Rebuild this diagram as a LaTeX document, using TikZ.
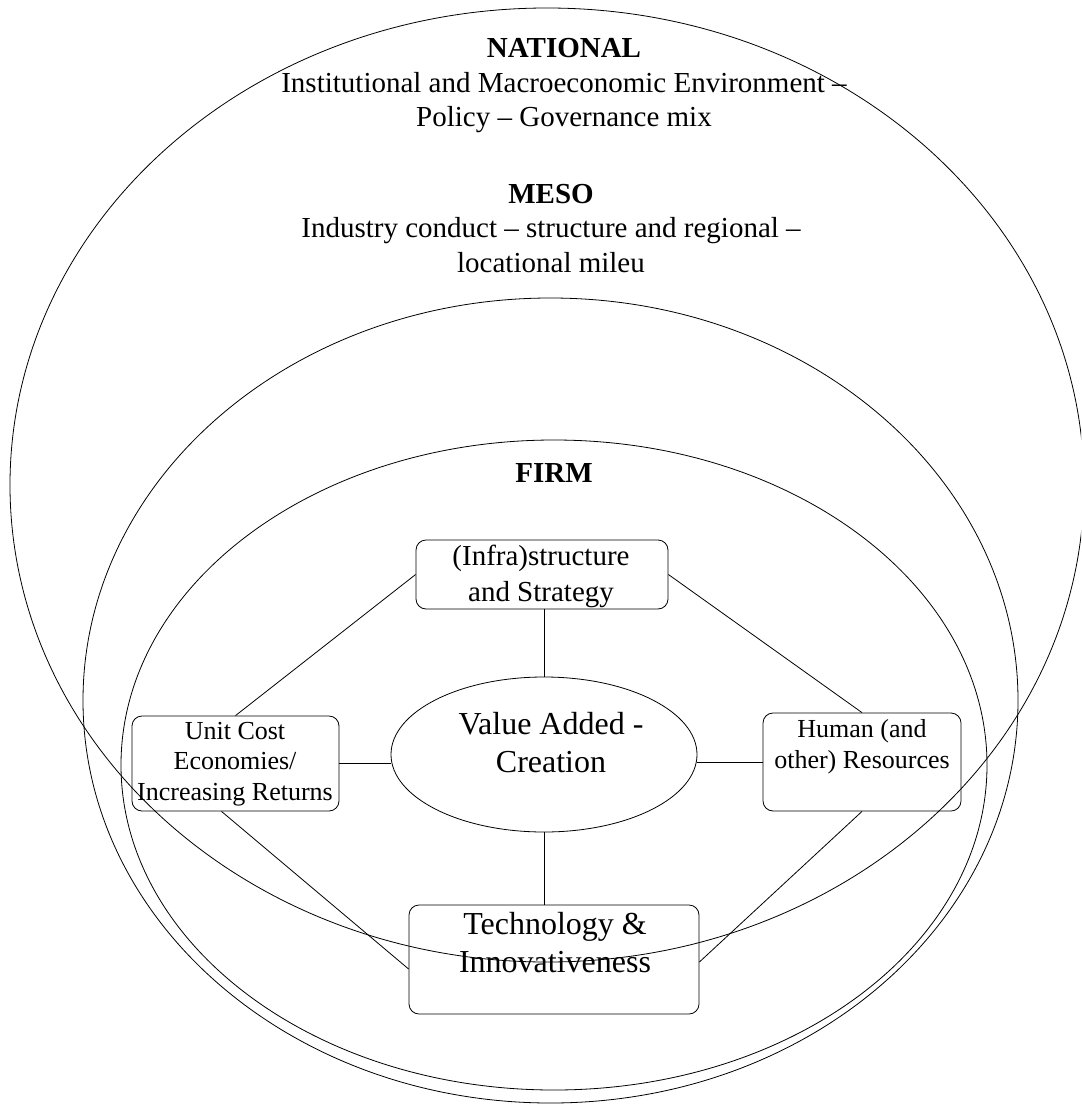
\documentclass[tikz,border=0pt]{standalone}
\usepackage{fontspec}
\setmainfont{Liberation Serif}
\usetikzlibrary{shapes.geometric}
\begin{document}
\begin{tikzpicture}[x=1pt,y=-1pt, line width=0.8pt,
  ringshape/.style={draw, ellipse, inner sep=0pt},
  roundbox/.style={draw, rounded corners=10pt, inner sep=0pt},
  bigtext/.style={font=\fontsize{29}{34.5}\selectfont, align=center, anchor=base, inner sep=0pt},
  midtext/.style={font=\fontsize{32}{37.5}\selectfont, align=center, anchor=base, inner sep=0pt},
  smalltext/.style={font=\fontsize{26}{31}\selectfont, align=center, anchor=base, inner sep=0pt}]
\clip (0,0) rectangle (1081,1105);
% text (anchor = baseline of last line)
\node[bigtext] (natlabel) at (564,127) {\textbf{NATIONAL}\\Institutional and Macroeconomic Environment –\\Policy – Governance mix};
\node[bigtext] (mesolabel) at (551,272) {\textbf{MESO}\\Industry conduct – structure and regional –\\locational mileu};
\node[bigtext] (firmlabel) at (554,482) {\textbf{FIRM}};
\node[bigtext, font=\fontsize{29}{36}\selectfont] (infratext) at (541,601) {(Infra)structure\\and Strategy};
\node[midtext] (valuetext) at (551,772) {Value Added -\\Creation};
\node[smalltext, font=\fontsize{26}{30.5}\selectfont] (unittext) at (235,800) {Unit Cost\\Economies/\\Increasing Returns};
\node[smalltext] (humantext) at (862,768) {Human (and\\other) Resources};
\node[midtext, font=\fontsize{32}{38}\selectfont] (techtext) at (555,972) {Technology \&\\Innovativeness};
% rings
\node[ringshape, minimum width=1074pt, minimum height=954pt] (natring) at (547,485) {};
\node[ringshape, minimum width=935pt, minimum height=805pt] (mesoring) at (550.5,700.5) {};
\node[ringshape, minimum width=866pt, minimum height=650pt] (firmring) at (554,765) {};
\node[ringshape, minimum width=306pt, minimum height=155pt] (value) at (544,754.5) {};
% boxes
\node[roundbox, minimum width=252pt, minimum height=69pt] (infra) at (542,574.5) {};
\node[roundbox, minimum width=207pt, minimum height=95pt] (unit) at (235.5,763.5) {};
\node[roundbox, minimum width=198pt, minimum height=98pt] (human) at (862,762) {};
\node[roundbox, minimum width=290pt, minimum height=109pt] (tech) at (554,959.5) {};
% connectors
\draw (infra.west) -- (unit.north);
\draw (infra.east) -- (human.north);
\draw (value.north) -- (value.north |- infra.south);
\draw (unit.east) -- (unit.east -| value.west);
\draw (human.west) -- (human.west -| value.east);
\draw (value.south) -- (value.south |- tech.north);
\draw ([xshift=-14pt]unit.south) -- ([yshift=-9.5pt]tech.west);
\draw (human.south) -- ([yshift=-2.5pt]tech.east);
\end{tikzpicture}
\end{document}
